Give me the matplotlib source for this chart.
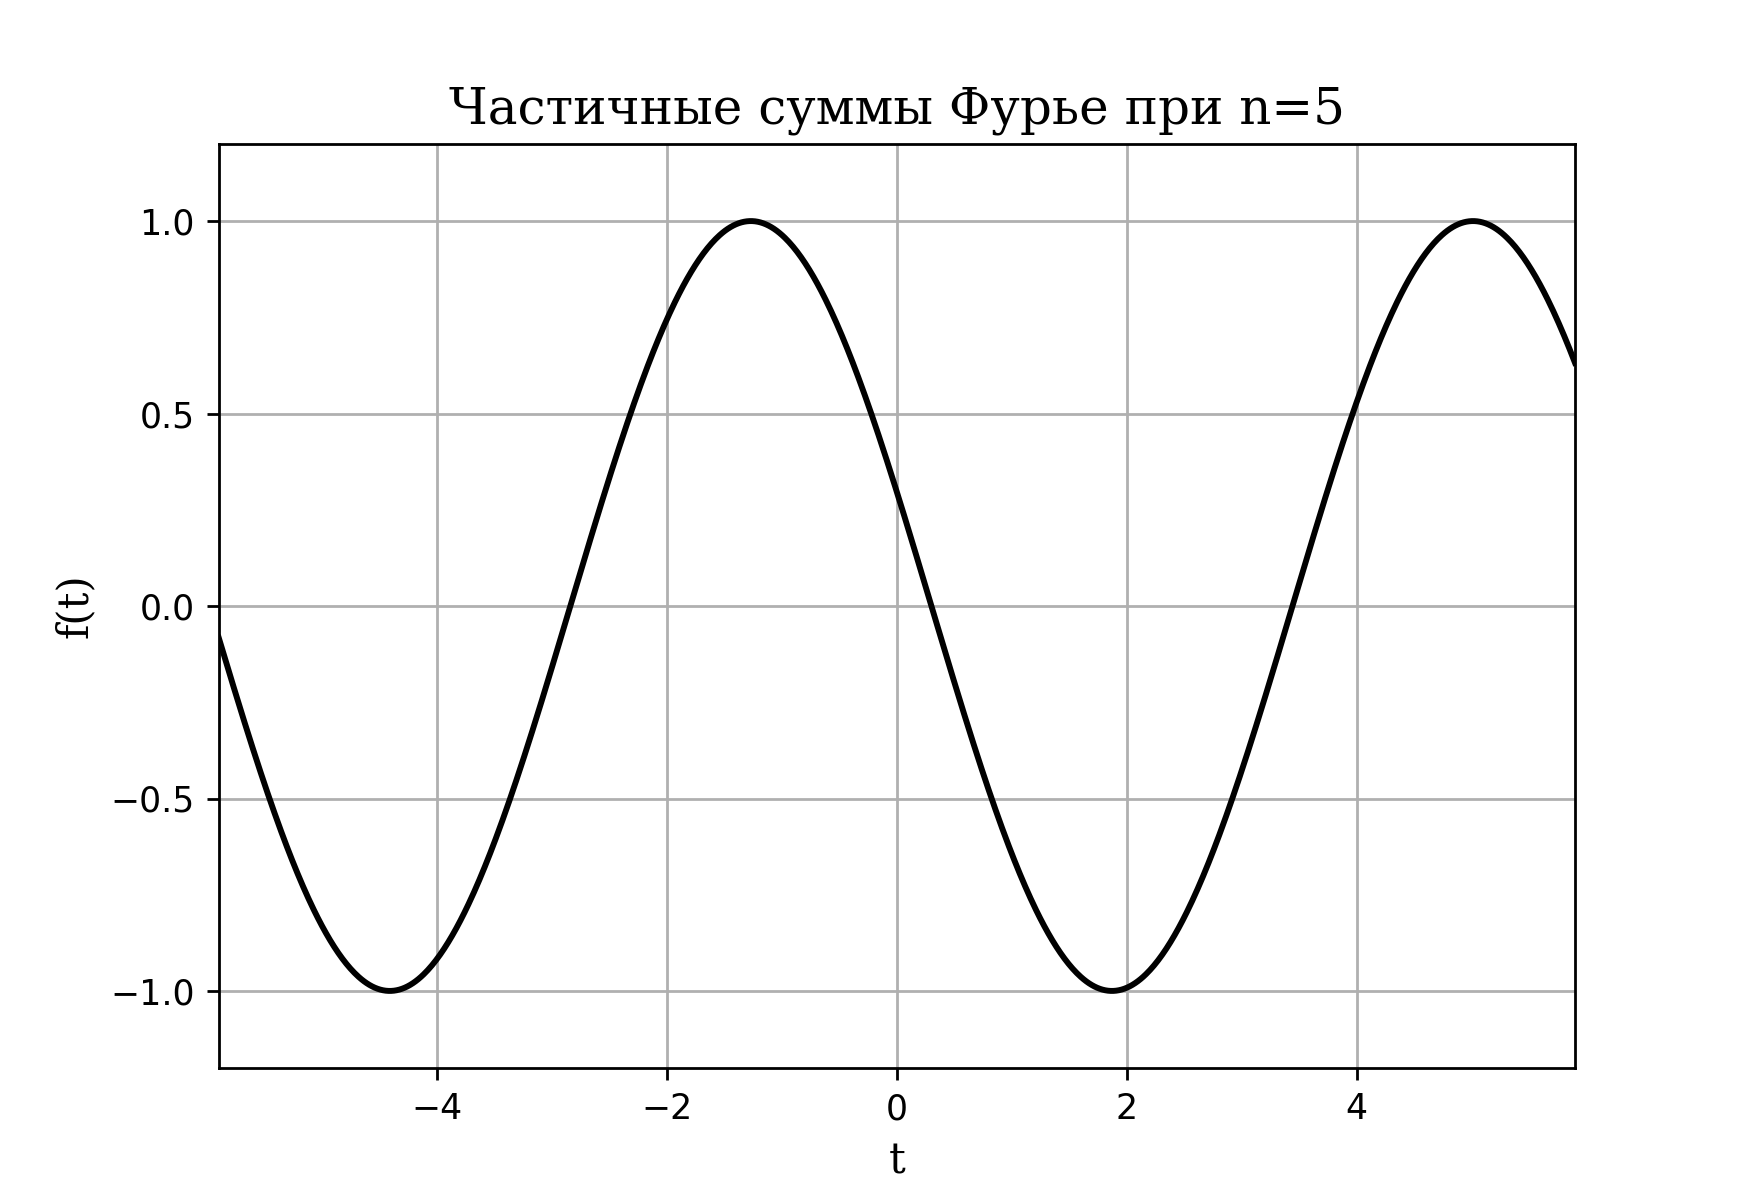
import matplotlib
matplotlib.use('Agg')
import matplotlib.pyplot as plt
import numpy as np

# harmonic coefficients of the partial sum
harmonics = [1]
cos_coef = [0.296]
sin_coef = [-0.955]

t_min, t_max = -5.9, 5.9
n_terms = 5

t = np.linspace(t_min, t_max, 1000)
f = np.zeros_like(t)
for k, a, b in zip(harmonics, cos_coef, sin_coef):
    f += a * np.cos(k * t) + b * np.sin(k * t)

fig, ax = plt.subplots(figsize=(7, 4.8), dpi=250)
ax.plot(t, f, color='black', linewidth=1.7)
ax.set_xlim(t_min, t_max)
ax.set_ylim(-1.2, 1.2)
ax.grid(True)
ax.set_title(f'Частичные суммы Фурье при n={n_terms}', family='DejaVu Serif', fontsize=14.4)
ax.set_xlabel('t', family='DejaVu Serif', fontsize=12)
ax.set_ylabel('f(t)', family='DejaVu Serif', fontsize=12)

fig.savefig('out.png', dpi=250)
